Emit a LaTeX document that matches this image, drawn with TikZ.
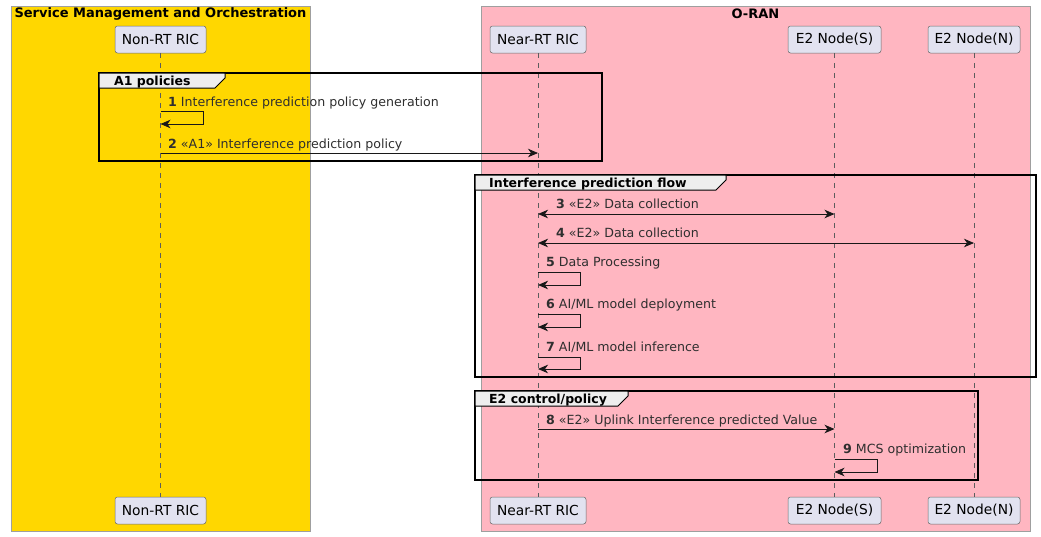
\documentclass[tikz,border=0pt]{standalone}
\usepackage{fontspec}
\setmainfont{DejaVu Sans}
\usetikzlibrary{arrows.meta}
\definecolor{smo}{HTML}{FFD700}
\definecolor{oran}{HTML}{FFB6C1}
\definecolor{part}{HTML}{E2E2F0}
\definecolor{ln}{HTML}{181818}
\definecolor{tabc}{HTML}{EEEEEE}
\begin{document}
\begin{tikzpicture}[x=1pt,y=-1pt,
 font=\fontsize{12.6}{14}\selectfont,
 boxarea/.style={draw=gray!75, line width=0.6pt},
 boxtitle/.style={font=\fontsize{13}{15}\selectfont\bfseries, inner sep=0pt},
 partbox/.style={draw=ln!65, fill=part, rounded corners=2.5pt, minimum height=27pt, inner sep=0pt, line width=0.5pt, font=\fontsize{13.8}{15}\selectfont},
 lifeline/.style={draw=ln!70, dash pattern=on 5pt off 5pt, line width=0.4pt},
 msg/.style={draw=ln, line width=0.8pt, -{Stealth[length=10pt,width=8.5pt,inset=3pt]}},
 bimsg/.style={draw=ln, line width=0.8pt, {Stealth[length=10pt,width=8.5pt,inset=3pt]}-{Stealth[length=10pt,width=8.5pt,inset=3pt]}},
 lbl/.style={anchor=base west, inner sep=0pt, text=ln!90},
 grp/.style={draw=black, line width=1.4pt},
 grptab/.style={draw=black, fill=tabc, line width=1pt},
 grplbl/.style={anchor=base west, inner sep=0pt, font=\fontsize{12.5}{14}\selectfont\bfseries},
 ]
\useasboundingbox (0,0) rectangle (1041,536);
\fill[white] (0,0) rectangle (1041,536);
% boxes
\path[boxarea, fill=smo] (11,6) rectangle (310,531);
\path[boxarea, fill=oran] (481,6) rectangle (1030,531);
\node[boxtitle] (smot) at (160.5,14) {Service Management and Orchestration};
\node[boxtitle] (orant) at (755.5,14) {O-RAN};
% participants
\node[partbox, minimum width=91pt] (nrt) at (160.5,39.5) {Non-RT RIC};
\node[partbox, minimum width=96pt] (near) at (538,39.5) {Near-RT RIC};
\node[partbox, minimum width=93pt] (e2s) at (834.5,39.5) {E2 Node(S)};
\node[partbox, minimum width=92pt] (e2n) at (974,39.5) {E2 Node(N)};
\node[partbox, minimum width=91pt] (nrtb) at (160.5,510.5) {Non-RT RIC};
\node[partbox, minimum width=96pt] (nearb) at (538,510.5) {Near-RT RIC};
\node[partbox, minimum width=93pt] (e2sb) at (834.5,510.5) {E2 Node(S)};
\node[partbox, minimum width=92pt] (e2nb) at (974,510.5) {E2 Node(N)};
\draw[lifeline] (nrt.south) -- (nrtb.north);
\draw[lifeline] (near.south) -- (nearb.north);
\draw[lifeline] (e2s.south) -- (e2sb.north);
\draw[lifeline] (e2n.south) -- (e2nb.north);
% groups
\draw[grp] (99,73) rectangle (602,161);
\draw[grptab] (99,73) -- (225,73) -- (225,78) -- (215,88) -- (99,88) -- cycle;
\node[grplbl] (g1) at (114,85.5) {A1 policies};
\draw[grp] (475,175) rectangle (1036,377);
\draw[grptab] (475,175) -- (726,175) -- (726,180) -- (716,190) -- (475,190) -- cycle;
\node[grplbl] (g2) at (489,187.5) {Interference prediction flow};
\draw[grp] (475,391) rectangle (978,480);
\draw[grptab] (475,391) -- (628,391) -- (628,396) -- (618,406) -- (475,406) -- cycle;
\node[grplbl] (g3) at (489,403.5) {E2 control/policy};
% coordinates on lifelines
\coordinate (a1) at (160.5,111); \coordinate (a1r) at (203,111); \coordinate (a1d) at (203,124); \coordinate (a1e) at (160.5,124);
\coordinate (a2) at (160.5,153); \coordinate (b2) at (538,153);
\coordinate (a3) at (538,214); \coordinate (b3) at (834.5,214);
\coordinate (a4) at (538,243); \coordinate (b4) at (974,243);
\coordinate (a5) at (538,272); \coordinate (a5r) at (580,272); \coordinate (a5d) at (580,285); \coordinate (a5e) at (538,285);
\coordinate (a6) at (538,314); \coordinate (a6r) at (580,314); \coordinate (a6d) at (580,327); \coordinate (a6e) at (538,327);
\coordinate (a7) at (538,357); \coordinate (a7r) at (580,357); \coordinate (a7d) at (580,369); \coordinate (a7e) at (538,369);
\coordinate (a8) at (538,429); \coordinate (b8) at (834.5,429);
\coordinate (a9) at (834.5,459); \coordinate (a9r) at (877,459); \coordinate (a9d) at (877,472); \coordinate (a9e) at (834.5,472);
% messages
\draw[msg] (a1) -- (a1r) -- (a1d) -- (a1e);
\node[lbl] (l1) at (168,106.5) {\textbf{1} Interference prediction policy generation};
\draw[msg] (a2) -- (b2);
\node[lbl] (l2) at (168,148.5) {\textbf{2} «A1» Interference prediction policy};
\draw[bimsg] (a3) -- (b3);
\node[lbl] (l3) at (556,208.5) {\textbf{3} «E2» Data collection};
\draw[bimsg] (a4) -- (b4);
\node[lbl] (l4) at (556,237.5) {\textbf{4} «E2» Data collection};
\draw[msg] (a5) -- (a5r) -- (a5d) -- (a5e);
\node[lbl] (l5) at (546,266.5) {\textbf{5} Data Processing};
\draw[msg] (a6) -- (a6r) -- (a6d) -- (a6e);
\node[lbl] (l6) at (546,308.5) {\textbf{6} AI/ML model deployment};
\draw[msg] (a7) -- (a7r) -- (a7d) -- (a7e);
\node[lbl] (l7) at (546,351.5) {\textbf{7} AI/ML model inference};
\draw[msg] (a8) -- (b8);
\node[lbl] (l8) at (546,424.5) {\textbf{8} «E2» Uplink Interference predicted Value};
\draw[msg] (a9) -- (a9r) -- (a9d) -- (a9e);
\node[lbl] (l9) at (843,453.5) {\textbf{9} MCS optimization};
\end{tikzpicture}
\end{document}
